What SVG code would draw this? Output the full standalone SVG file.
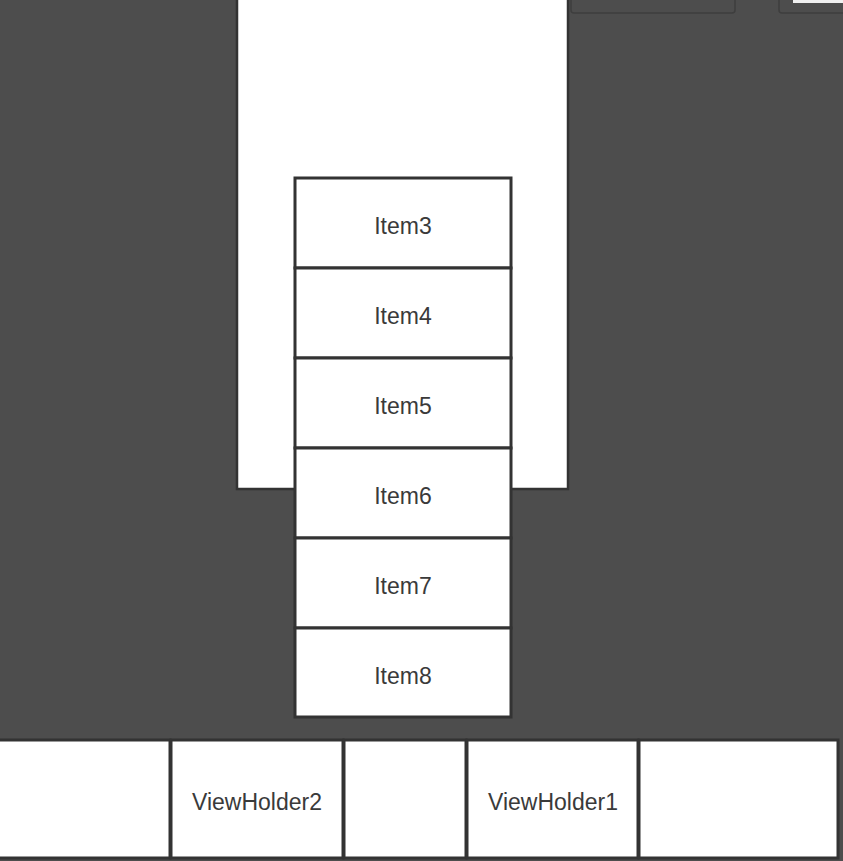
<svg xmlns="http://www.w3.org/2000/svg" width="843" height="861" viewBox="0 0 843 861">
<style>
.item{fill:#fff;stroke:#333;stroke-width:3}
.cell{fill:#fff;stroke:#333;stroke-width:3}
.t{font-family:"Liberation Sans",Arial,sans-serif;font-size:23px;fill:#3a3a3a;text-anchor:middle;dominant-baseline:central}
</style>
<rect x="0" y="0" width="843" height="861" fill="#4d4d4d"/>
<g id="toolbar">
<rect x="571" y="-10" width="164" height="23" rx="3" fill="none" stroke="#3e3e3e" stroke-width="1.5"/>
<rect x="779" y="-10" width="70" height="23" rx="3" fill="none" stroke="#3e3e3e" stroke-width="1.5"/>
<rect x="793" y="-5" width="50" height="8" fill="#f0f0f0"/>
</g>
<g id="screen">
<rect x="237" y="-5" width="331" height="494" fill="#fff" stroke="#333" stroke-width="2.5"/>
</g>
<g id="item3"><rect class="item" x="295" y="178" width="216" height="90"/><text class="t" x="403" y="226">Item3</text></g>
<g id="item4"><rect class="item" x="295" y="268" width="216" height="90"/><text class="t" x="403" y="316">Item4</text></g>
<g id="item5"><rect class="item" x="295" y="358" width="216" height="90"/><text class="t" x="403" y="406">Item5</text></g>
<g id="item6"><rect class="item" x="295" y="448" width="216" height="90"/><text class="t" x="403" y="496">Item6</text></g>
<g id="item7"><rect class="item" x="295" y="538" width="216" height="90"/><text class="t" x="403" y="586">Item7</text></g>
<g id="item8"><rect class="item" x="295" y="628" width="216" height="89"/><text class="t" x="403" y="676">Item8</text></g>
<g id="cell0"><rect class="cell" x="-5" y="740" width="175" height="118"/></g>
<g id="viewholder2"><rect class="cell" x="171" y="740" width="172" height="118"/><text class="t" x="257" y="802">ViewHolder2</text></g>
<g id="cell2"><rect class="cell" x="344" y="740" width="122" height="118"/></g>
<g id="viewholder1"><rect class="cell" x="467" y="740" width="171" height="118"/><text class="t" x="553" y="802">ViewHolder1</text></g>
<g id="cell4"><rect class="cell" x="639" y="740" width="199" height="118"/></g>
<g id="connectors"></g>
</svg>
